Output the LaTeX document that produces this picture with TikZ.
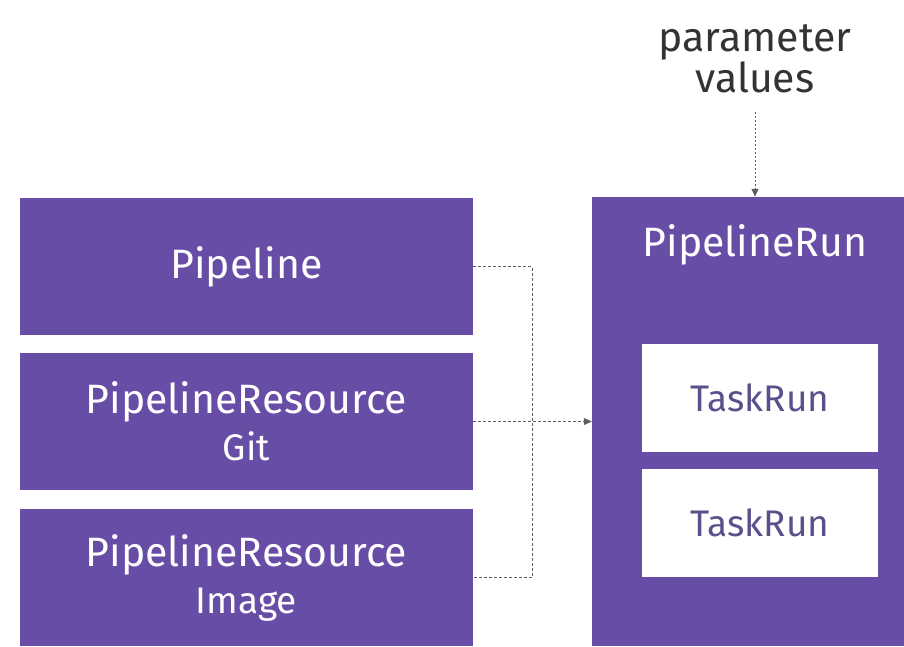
\documentclass[tikz,border=0pt]{standalone}
\usepackage{fontspec}
\setmainfont{Fira Sans}
\usetikzlibrary{arrows.meta,positioning}
\definecolor{runpurple}{RGB}{103,77,166}
\definecolor{taskink}{RGB}{92,80,140}
\definecolor{linkgray}{RGB}{95,95,95}

\begin{document}
\begin{tikzpicture}[x=1pt, y=-1pt,
  every node/.style={font=\fontsize{41}{47}\selectfont},
  res/.style={fill=runpurple, text=white, rectangle, minimum width=453pt,
              minimum height=137pt, align=center, inner sep=0pt},
  run/.style={fill=runpurple, rectangle, minimum width=312pt,
              minimum height=449pt, inner sep=0pt},
  task/.style={fill=white, text=taskink, rectangle, minimum width=236pt,
               minimum height=108pt, align=center, inner sep=0pt,
               font=\fontsize{37}{40}\selectfont},
  link/.style={draw=linkgray, line width=1pt, dash pattern=on 3pt off 2pt},
  ar/.style={link, -{Triangle[length=8pt,width=7pt]}}]

\useasboundingbox (0,0) rectangle (904,646);

%% ---- left column ----
\node[res] (PIPE) at (246.5,266.5) {Pipeline};
\node[res] (GIT)  at (246.5,421.5)
  {PipelineResource\\{\fontsize{37}{47}\selectfont Git}};
\node[res] (IMG)  at (246.5,577.5)
  {PipelineResource\\{\fontsize{37}{47}\selectfont Image}};

%% ---- right column ----
\node[run]  (PRUN) at (748,421.5) {};
\node[text=white] (PRLB) at (755,245) {PipelineRun};
\node[task] (TR1)  at (760,397.5) {TaskRun};
\node[task] (TR2)  at (760,522.5) {TaskRun};
\node[text=black!80, align=center, font=\fontsize{41}{38}\selectfont] (PVAL) at (755,59) {parameter\\values};

%% --- connectors ---
\coordinate (BUS) at (532,421.5);
\draw[link] (PIPE.east) -| (BUS) |- (IMG.east);
\draw[ar] (GIT.east) -- (PRUN.west);
\draw[ar, dash pattern=on 2pt off 2pt, shorten <=16pt] (PVAL.south) -- (PVAL.south |- PRUN.north);
\end{tikzpicture}
\end{document}
